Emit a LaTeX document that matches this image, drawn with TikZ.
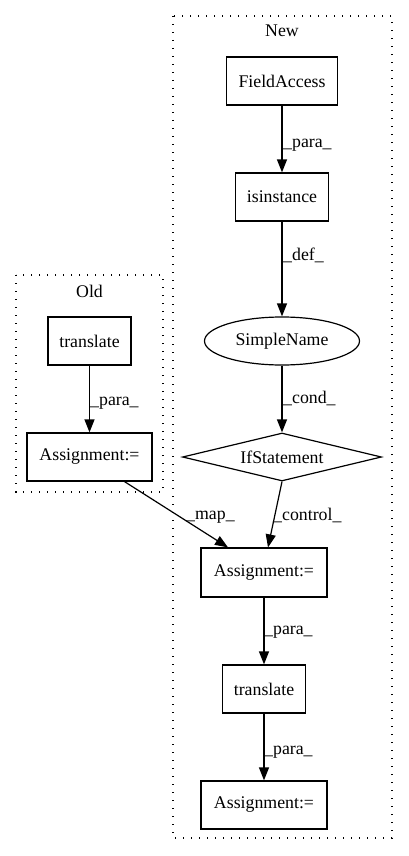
\documentclass[tikz,border=0pt]{standalone}
\usepackage{fontspec}
\setmainfont{Liberation Serif}
\usetikzlibrary{shapes.geometric,arrows.meta}
\begin{document}
\begin{tikzpicture}[x=1pt,y=-1pt,
  every node/.style={font=\fontsize{17.8}{20}\selectfont},
  box/.style={draw,line width=1.2pt,rectangle,inner sep=0pt,minimum height=48pt},
  oval/.style={draw,line width=1.2pt,ellipse,inner sep=0pt,minimum width=155pt,minimum height=48pt},
  dia/.style={draw,line width=1.2pt,diamond,aspect=4.1,inner sep=0pt,minimum width=199pt,minimum height=48pt},
  cluster/.style={line width=1.3pt,dash pattern=on 1.3pt off 6.7pt},
  edge/.style={line width=1.2pt,-{Triangle[length=13pt,width=10pt]}},
  elabel/.style={anchor=west,inner sep=0pt}]
\useasboundingbox (0,0) rectangle (408,856);
% clusters
\draw[cluster] (173,16) rectangle (392,838);
\node (newlbl) at (282,31) {New};
\draw[cluster] (16,275) rectangle (163,492);
\node (oldlbl) at (89.5,291) {Old};
% nodes
\node[box,minimum width=111pt] (fa) at (282,81) {FieldAccess};
\node[box,minimum width=93pt] (isi) at (282,197) {isinstance};
\node[oval] (sn) at (282,341) {SimpleName};
\node[dia] (ifs) at (282,457) {IfStatement};
\node[box,minimum width=126pt,minimum height=49pt] (asn) at (264,572.5) {Assignment:=};
\node[box,minimum width=83pt] (trn) at (264,689) {translate};
\node[box,minimum width=126pt] (asn2) at (264,805) {Assignment:=};
\node[box,minimum width=83pt] (tro) at (89.5,341) {translate};
\node[box,minimum width=125pt] (aso) at (89.5,457) {Assignment:=};
% edges
\draw[edge] (fa) -- (isi);
\node[elabel] (l1) at (283,145) {\_para\_};
\draw[edge] (isi) -- (sn);
\node[elabel] (l2) at (283,255) {\_def\_};
\draw[edge] (sn) -- (ifs);
\node[elabel] (l3) at (283,398) {\_cond\_};
\draw[edge] (ifs.south) -- ([xshift=4pt]asn.north);
\node[elabel] (l4) at (273,515) {\_control\_};
\draw[edge] ([xshift=35pt]aso.south) -- ([xshift=-36pt]asn.north);
\node[elabel] (l5) at (186,517) {\_map\_};
\draw[edge] (asn) -- (trn);
\node[elabel] (l6) at (264,632) {\_para\_};
\draw[edge] (trn) -- (asn2);
\node[elabel] (l7) at (264,752) {\_para\_};
\draw[edge] (tro) -- (aso);
\node[elabel] (l8) at (90,403) {\_para\_};
\end{tikzpicture}
\end{document}
